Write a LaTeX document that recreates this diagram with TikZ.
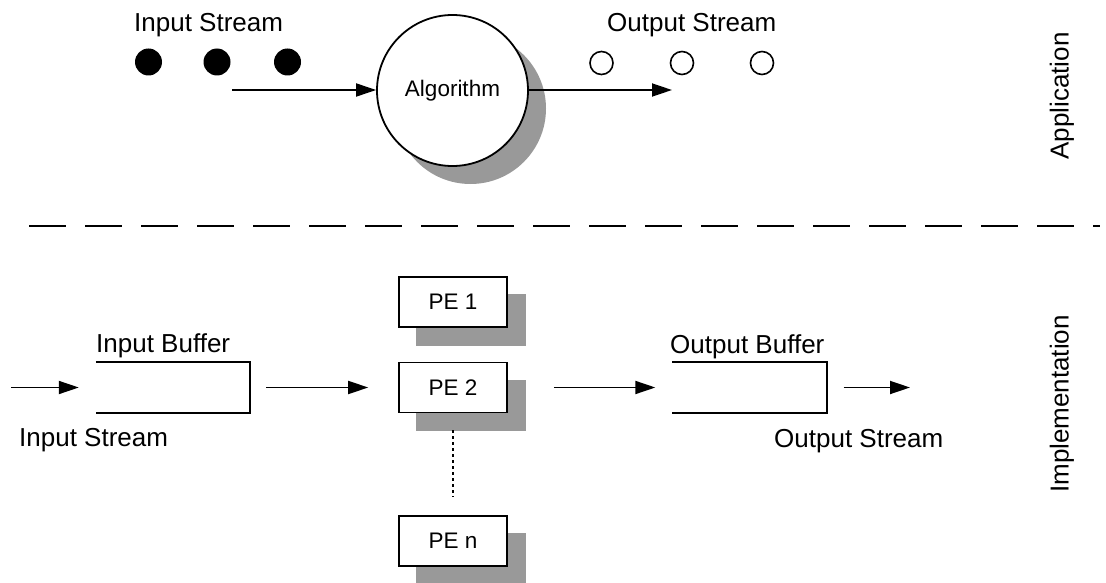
\documentclass[tikz,border=0pt]{standalone}
\usepackage{fontspec}
\setmainfont{Liberation Sans}
\usetikzlibrary{arrows.meta}
\pgfdeclarelayer{bg}
\pgfsetlayers{bg,main}
\begin{document}
\begin{tikzpicture}[x=1pt,y=-1pt,
  lbl/.style={inner sep=0,font=\fontsize{26}{30}\selectfont},
  small/.style={inner sep=0,font=\fontsize{22.5}{27}\selectfont},
  thick line/.style={line width=1.8pt},
  arr/.style={line width=1.8pt,-{Triangle[length=20pt,width=13pt]}},
  shade/.style={fill=black!40},
  pebox/.style={draw,line width=1.6pt,fill=white,minimum width=108pt,minimum height=50pt,inner sep=0,font=\fontsize{22.5}{27}\selectfont},
  buf/.style={minimum width=154pt,minimum height=51pt,inner sep=0},
  dotin/.style={circle,fill=black,minimum size=27pt,inner sep=0},
  dotout/.style={circle,draw,line width=1.6pt,minimum size=23pt,inner sep=0}
]
\useasboundingbox (0,0) rectangle (1106,583);

% ---------- Application level ----------
\node[lbl,anchor=base west] (instop) at (134,32) {Input Stream};
\node[lbl,anchor=base west] (outstop) at (607,32) {Output Stream};
\node[dotin] (d1) at (148.5,62) {};
\node[dotin] (d2) at (217,62) {};
\node[dotin] (d3) at (287.5,62) {};
\node[dotout] (o1) at (601.5,63) {};
\node[dotout] (o2) at (682,63) {};
\node[dotout] (o3) at (762,63) {};

\node[circle,draw,thick line,fill=white,minimum size=151pt,inner sep=0,small] (alg) at (452.5,90.5) {Algorithm};
\begin{pgfonlayer}{bg}
  \fill[shade] ([shift={(18,18)}]alg.center) circle (75.5);
\end{pgfonlayer}

\coordinate (ain) at (232,90);
\coordinate (aout) at (672,90);
\draw[arr] (ain) -- (ain -| alg.west);
\draw[arr] (aout -| alg.east) -- (aout);

\node[lbl,rotate=90] (app) at (1062,96) {Application};

% ---------- separator ----------
\coordinate (sepL) at (29,226);
\coordinate (sepR) at (1100,226);
\draw[line width=2pt,dash pattern=on 37pt off 19pt] (sepL) -- (sepR);

% ---------- Implementation level ----------
\node[lbl,rotate=90] (impl) at (1062,404) {Implementation};

\node[buf] (ib) at (173,387.5) {};
\draw[thick line] (ib.north west) -- (ib.north east) -- (ib.south east) -- (ib.south west);
\node[lbl,anchor=base west] (iblbl) at (96,352) {Input Buffer};
\node[lbl,anchor=base west] (isbot) at (19,446) {Input Stream};

\node[pebox] (pe1) at (453,302) {PE 1};
\node[pebox] (pe2) at (453,387.5) {PE 2};
\node[pebox] (pen) at (453,541) {PE n};
\begin{pgfonlayer}{bg}
  \foreach \p in {pe1,pe2,pen}
    \fill[shade] ([shift={(18,18)}]\p.north west) rectangle ([shift={(18,18)}]\p.south east);
\end{pgfonlayer}
\draw[line width=1.5pt,dash pattern=on 3pt off 3pt] ([yshift=-17pt]pe2.south) -- ([yshift=-84pt]pe2.south);

\node[buf] (ob) at (749.5,387.5) {};
\draw[thick line] (ob.north west) -- (ob.north east) -- (ob.south east) -- (ob.south west);
\node[lbl,anchor=base west] (oblbl) at (670,353) {Output Buffer};
\node[lbl,anchor=base west] (osbot) at (774,447) {Output Stream};

\coordinate (bin) at (11,387.5);
\coordinate (bout) at (910,387.5);
\draw[arr,shorten >=17pt] (bin) -- (ib.west);
\draw[arr,shorten <=16pt,shorten >=30pt] (ib.east) -- (pe2.west |- ib.east);
\draw[arr,shorten <=46pt,shorten >=17pt] (pe2.east |- ob.west) -- (ob.west);
\draw[arr,shorten <=17pt] (ob.east) -- (bout);
\end{tikzpicture}
\end{document}
